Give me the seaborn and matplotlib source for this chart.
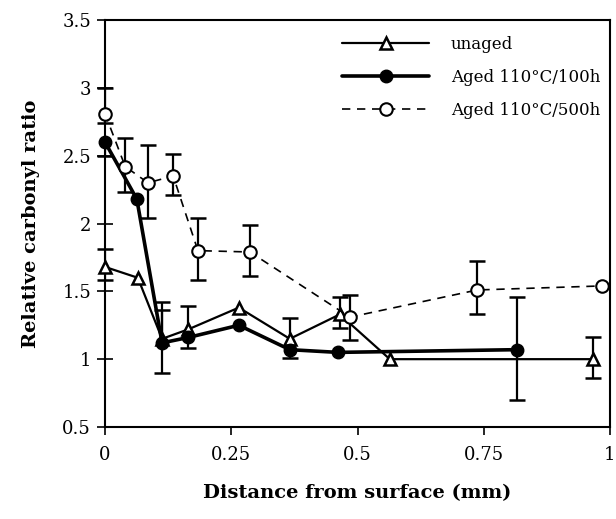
import numpy as np
import pandas as pd
import matplotlib
matplotlib.use("Agg")
import matplotlib.pyplot as plt
import seaborn as sns

nan = np.nan

# Data
unaged_x = [0.0, 0.065, 0.113, 0.165, 0.265, 0.366, 0.465, 0.564, 0.966]
unaged_y = [1.68, 1.60, 1.15, 1.22, 1.38, 1.15, 1.33, 1.00, 1.00]
unaged_lo = [1.58, nan, nan, nan, nan, nan, 1.23, nan, 0.86]
unaged_hi = [1.81, nan, 1.36, 1.39, nan, 1.30, 1.46, nan, 1.16]

aged100_x = [0.0, 0.063, 0.113, 0.165, 0.265, 0.366, 0.461, 0.816]
aged100_y = [2.60, 2.18, 1.12, 1.16, 1.25, 1.07, 1.05, 1.07]
aged100_lo = [2.50, nan, 0.90, 1.08, nan, 1.01, nan, 0.70]
aged100_hi = [nan, nan, 1.42, nan, nan, nan, nan, 1.46]

aged500_x = [0.0, 0.04, 0.085, 0.135, 0.184, 0.287, 0.485, 0.737, 0.985]
aged500_y = [2.81, 2.42, 2.30, 2.35, 1.80, 1.79, 1.31, 1.51, 1.54]
aged500_lo = [2.74, 2.23, 2.04, 2.21, 1.58, 1.61, 1.14, 1.33, nan]
aged500_hi = [3.00, 2.63, 2.58, 2.51, 2.04, 1.99, 1.47, 1.72, nan]

labels = ["unaged", "Aged 110\u00b0C/100h", "Aged 110\u00b0C/500h"]
x_ticks = [0, 0.25, 0.5, 0.75, 1]
x_tick_labels = ["0", "0.25", "0.5", "0.75", "1"]
y_ticks = [0.5, 1, 1.5, 2, 2.5, 3, 3.5]
y_tick_labels = ["0.5", "1", "1.5", "2", "2.5", "3", "3.5"]

sns.set_theme(style="white")
plt.rcParams["font.family"] = ["DejaVu Serif"]
plt.rcParams["text.color"] = "black"
plt.rcParams["axes.labelcolor"] = "black"

fig = plt.figure(figsize=(6.16, 5.19), dpi=100)
ax = fig.add_axes([105 / 616, 1 - 427 / 519, 505 / 616, 407 / 519])

series = [
    (unaged_x, unaged_y, unaged_lo, unaged_hi, labels[0],
     dict(marker="^", markersize=8.5, markerfacecolor="white", markeredgecolor="black",
          markeredgewidth=1.8, linewidth=1.6, linestyle="-")),
    (aged100_x, aged100_y, aged100_lo, aged100_hi, labels[1],
     dict(marker="o", markersize=9, markerfacecolor="black", markeredgecolor="black",
          markeredgewidth=1.0, linewidth=2.6, linestyle="-")),
    (aged500_x, aged500_y, aged500_lo, aged500_hi, labels[2],
     dict(marker="o", markersize=9, markerfacecolor="white", markeredgecolor="black",
          markeredgewidth=1.5, linewidth=1.2, linestyle=(0, (5, 4)))),
]

for xs, ys, lo, hi, lab, st in series:
    df = pd.DataFrame({"x": xs, "y": ys, "lo": lo, "hi": hi})
    # error bars (drawn one-sided as in the reference)
    for col in ["lo", "hi"]:
        sub = df.dropna(subset=[col])
        ax.vlines(sub["x"], sub["y"], sub[col], color="black", linewidth=1.6, zorder=2)
        ax.plot(sub["x"], sub[col], linestyle="none", marker="_", markersize=11,
                markeredgewidth=1.8, color="black", zorder=2, clip_on=False)
    sns.lineplot(data=df, x="x", y="y", ax=ax, color="black", label=lab,
                 sort=False, zorder=3, clip_on=False, **st)

ax.set_xlim(0, 1)
ax.set_ylim(0.5, 3.5)
ax.set_xticks(x_ticks)
ax.set_xticklabels(x_tick_labels)
ax.set_yticks(y_ticks)
ax.set_yticklabels(y_tick_labels)
ax.tick_params(axis="x", direction="out", length=6, width=1.2, labelsize=13, pad=8,
               bottom=True, colors="black")
ax.tick_params(axis="y", direction="inout", length=12, width=1.2, labelsize=13, pad=4,
               left=True, colors="black")
for s in ax.spines.values():
    s.set_visible(True)
    s.set_color("black")
    s.set_linewidth(1.5)

ax.set_xlabel("Distance from surface (mm)", fontsize=14, fontweight="bold", labelpad=14)
ax.set_ylabel("Relative carbonyl ratio", fontsize=14, fontweight="bold", labelpad=16)

leg = ax.legend(loc="upper right", bbox_to_anchor=(1.0, 0.985), frameon=False, fontsize=12,
                handlelength=5.2, handletextpad=1.3, labelspacing=0.95, borderaxespad=0.2)
for t in leg.get_texts():
    t.set_color("black")

fig.savefig("out.png", dpi=100, facecolor="white")
